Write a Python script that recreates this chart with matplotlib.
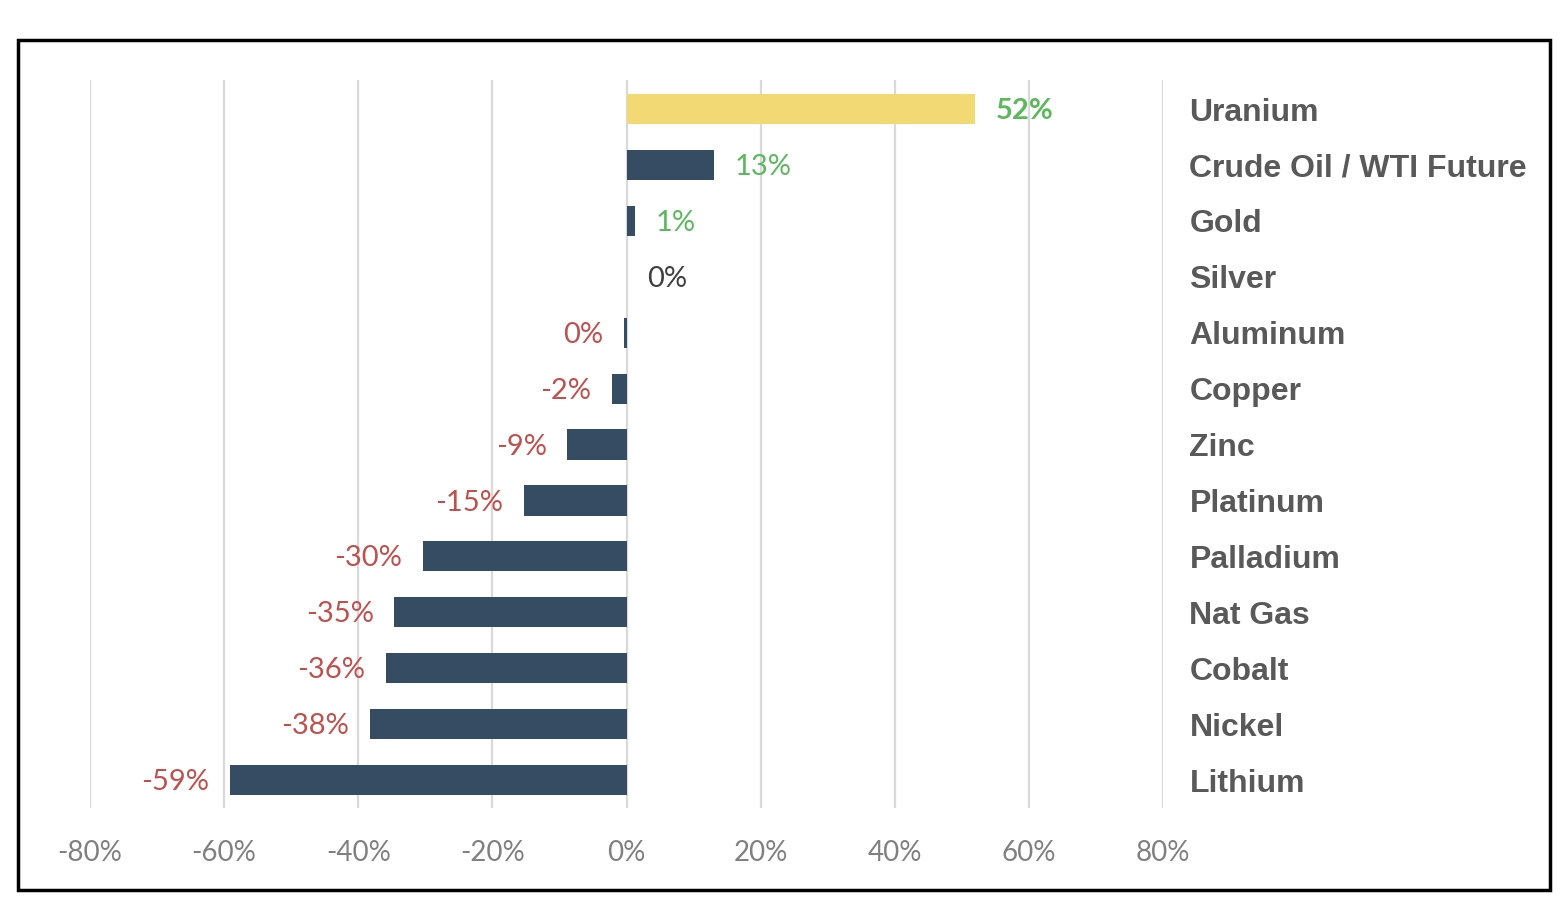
import matplotlib
matplotlib.use("Agg")
import matplotlib.pyplot as plt
from matplotlib.patches import Rectangle
from matplotlib.ticker import FuncFormatter

# data (percent change)
commodities = ["Uranium", "Crude Oil / WTI Future", "Gold", "Silver", "Aluminum",
               "Copper", "Zinc", "Platinum", "Palladium", "Nat Gas", "Cobalt",
               "Nickel", "Lithium"]
changes = [52, 13, 1.2, 0, -0.4, -2.1, -8.8, -15.3, -30.3, -34.6, -35.8, -38.2, -59.1]
bar_colors = ["#f2d974"] + ["#364c63"] * 12

fig = plt.figure(figsize=(15.66, 9.24), dpi=100)
ax = fig.add_axes([90 / 1566, 1 - 808 / 924, 1073 / 1566, 728 / 924])

ypos = list(range(len(commodities)))
ax.barh(ypos, changes, height=0.54, color=bar_colors, zorder=3)

ax.set_xlim(-80, 80)
ax.set_ylim(len(commodities) - 0.5, -0.52)
ax.set_xticks(range(-80, 81, 20))
ax.xaxis.set_major_formatter(FuncFormatter(lambda v, p: f"{v:.0f}%"))
ax.grid(axis="x", color="#d9d9d9", linewidth=1.6, zorder=0)
ax.tick_params(axis="x", length=0, pad=23, labelsize=20, labelcolor="#808080")
for lbl in ax.get_xticklabels():
    lbl.set_family("Lato")

ax.yaxis.tick_right()
ax.set_yticks(ypos)
ax.set_yticklabels(commodities, family="Liberation Sans", fontweight="bold",
                   fontsize=23, color="#595959")
ax.tick_params(axis="y", length=0, pad=19)

for s in ax.spines.values():
    s.set_visible(False)

# value labels
for y, v in zip(ypos, changes):
    txt = f"{round(v):.0f}%"
    if v > 0:
        col, ha, off = "#5cb85c", "left", 15
    elif v < 0:
        col, ha, off = "#c0504d", "right", -15
    else:
        col, ha, off = "#404040", "left", 15
    w = "bold" if v > 40 else "normal"
    ax.annotate(txt, (v, y), xytext=(off, -1.5), textcoords="offset points",
                ha=ha, va="center", fontsize=21, color=col, family="Lato",
                fontweight=w)

# outer frame
fig.patches.append(Rectangle((18 / 1566, 1 - 890 / 924), 1532 / 1566, 850 / 924,
                             transform=fig.transFigure, fill=False,
                             edgecolor="black", linewidth=2.5))

fig.savefig("out.png", dpi=100)
